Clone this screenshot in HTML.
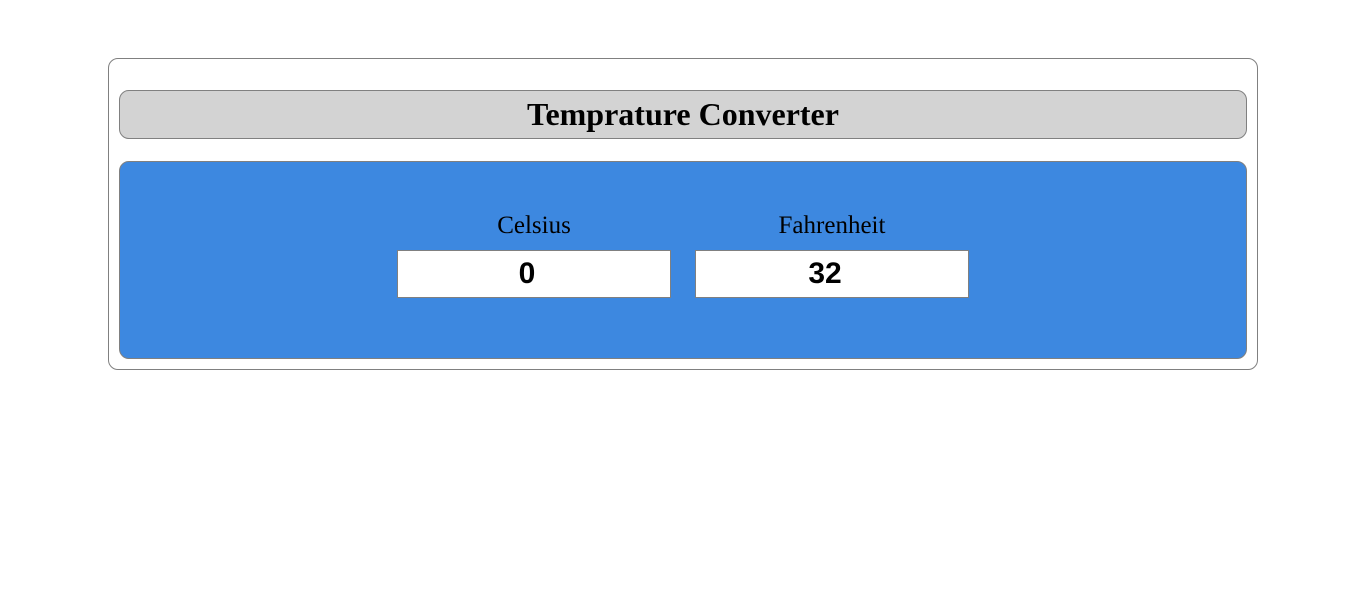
<!DOCTYPE html>
<html lang="en">
<head>
<meta charset="utf-8">
<title>Temprature Converter</title>
<style>
html,body{margin:0;padding:0;background:#fff;width:1366px;height:607px;overflow:hidden}
.box{position:absolute;box-sizing:border-box;border:1px solid #808080}
#outer{left:108px;top:58px;width:1150px;height:312px;border-radius:10px;background:#fff}
#head{left:119px;top:90px;width:1128px;height:49px;border-radius:10px;background:#d3d3d3;
  font:bold 32px/47px "Liberation Serif",serif;text-align:center;color:#000}
#panel{left:119px;top:161px;width:1128px;height:198px;border-radius:10px;background:#3d88e0}
.lbl{position:absolute;top:211px;width:274px;text-align:center;font:25px/30px "Liberation Serif",serif;color:#000}
input{position:absolute;top:250px;width:274px;height:48px;box-sizing:border-box;border:1px solid #808080;border-radius:0;
  background:#fff;padding:0 14px 0 0;margin:0;text-align:center;font:bold 30px "Liberation Sans",sans-serif;color:#000;outline:none}
</style>
</head>
<body>
<div class="box" id="outer"></div>
<div class="box" id="head">Temprature Converter</div>
<div class="box" id="panel"></div>
<div class="lbl" style="left:397px">Celsius</div>
<div class="lbl" style="left:695px">Fahrenheit</div>
<input style="left:397px" type="text" value="0">
<input style="left:695px" type="text" value="32">
</body>
</html>
